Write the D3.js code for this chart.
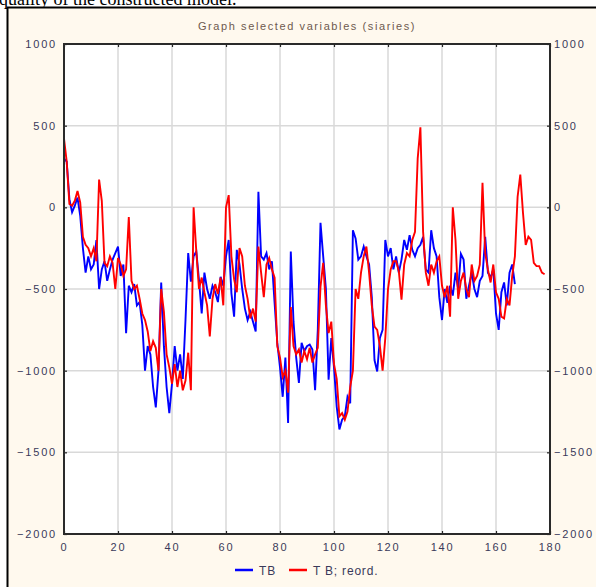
<!DOCTYPE html>
<html><head><meta charset="utf-8">
<script src="https://cdn.jsdelivr.net/npm/d3@7"></script>
<style>html,body{margin:0;padding:0;background:#fff;overflow:hidden}</style>
</head><body>
<svg id="c" width="596" height="587"></svg>
<script>
const title = "Graph selected variables (siaries)";
const xTicks = [0,20,40,60,80,100,120,140,160,180];
const yTicks = [-2000,-1500,-1000,-500,0,500,1000];
const seriesNames = ["TB", "T B; reord."];
const seriesColors = ["#0000ff", "#ff0000"];
const tbValues = [300,280,50,-30,10,60,-50,-250,-400,-300,-380,-350,-200,-500,-380,-330,-450,-380,-320,-280,
-240,-420,-350,-770,-480,-520,-470,-600,-580,-720,-1000,-850,-900,-1100,-1225,-1000,-460,-850,-1100,-1260,
-1080,-850,-1000,-900,-1050,-690,-280,-455,-300,-270,-445,-650,-400,-500,-560,-480,-520,-580,-425,-480,
-300,-200,-525,-670,-260,-350,-500,-620,-690,-640,-700,-760,95,-300,-320,-280,-380,-330,-585,-830,
-980,-1160,-920,-1320,-270,-700,-920,-1075,-830,-880,-850,-840,-870,-1120,-750,-95,-300,-500,-1055,-800,
-980,-1220,-1360,-1300,-1280,-1160,-1200,-140,-190,-320,-300,-240,-300,-350,-550,-935,-1005,-800,-750,-200,
-300,-250,-380,-300,-400,-320,-200,-260,-170,-260,-300,-250,-230,-180,-380,-400,-140,-250,-300,-550,
-690,-500,-585,-480,-540,-400,-500,-285,-320,-560,-480,-400,-500,-550,-450,-420,-180,-400,-430,-380,
-650,-750,-520,-460,-600,-400,-350,-470];
const reordValues = [420,280,20,10,40,100,30,-180,-230,-250,-300,-250,-330,170,40,-340,-360,-300,-340,-500,
-310,-350,-420,-380,-60,-450,-500,-480,-560,-650,-690,-760,-880,-820,-860,-1000,-500,-640,-900,-980,
-1080,-960,-1100,-1000,-1120,-1060,-890,-1120,0,-270,-500,-430,-520,-600,-790,-560,-470,-530,-430,-600,
0,75,-300,-440,-520,-250,-300,-480,-560,-680,-620,-700,-240,-400,-550,-350,-310,-380,-430,-850,
-920,-1040,-1000,-1135,-610,-850,-900,-870,-950,-880,-930,-860,-950,-900,-860,-485,-340,-600,-770,-700,
-960,-1050,-1280,-1260,-1300,-1250,-1100,-1000,-500,-560,-400,-300,-240,-400,-600,-730,-750,-850,-1000,-800,
-500,-380,-330,-330,-390,-565,-350,-280,-300,-200,-150,300,490,-150,-400,-480,-350,-400,-330,-300,
-480,-550,-480,-670,0,-200,-560,-450,-400,-500,-550,-350,-450,-420,-350,150,-280,-380,-460,-350,
-520,-560,-670,-680,-560,-600,-420,-300,65,200,-35,-230,-180,-200,-340,-360,-360,-400,-410];

const svg = d3.select("#c");
const W = 596, H = 587;
const L = 64, R = 550, T = 44, B = 534;
const sans = "Liberation Sans, Arial, sans-serif";

svg.append("rect").attr("x",0).attr("y",0).attr("width",W).attr("height",H).attr("fill","#ffffff");
svg.append("text").attr("x",-1).attr("y",4.5).attr("font-family","Liberation Serif, Times New Roman, serif")
  .attr("font-size",18).attr("fill","#000").text("quality of the constructed model.");
svg.append("rect").attr("x",7.5).attr("y",7.5).attr("width",W+10).attr("height",H+10)
  .attr("fill","#fff9ee").attr("stroke","#000").attr("stroke-width",2);

const x = d3.scaleLinear().domain([0,180]).range([L,R]);
const y = d3.scaleLinear().domain([-2000,1000]).range([B,T]);

svg.append("rect").attr("x",L).attr("y",T).attr("width",R-L).attr("height",B-T).attr("fill","#ffffff");

// grid
const g = svg.append("g");
g.selectAll("line.vx").data(xTicks.slice(1,-1)).join("line")
  .attr("x1",d=>x(d)).attr("x2",d=>x(d)).attr("y1",T).attr("y2",B)
  .attr("stroke","#d9d9d9").attr("stroke-width",1.5);
g.selectAll("line.hy").data(yTicks.slice(1,-1)).join("line")
  .attr("y1",d=>y(d)).attr("y2",d=>y(d)).attr("x1",L).attr("x2",R)
  .attr("stroke","#d9d9d9").attr("stroke-width",1.5);

// lines
const line = d3.line().x((d,i)=>x(i)).y(d=>y(d));
const plot = svg.append("g");
plot.append("path").datum(tbValues).attr("d",line).attr("fill","none")
  .attr("stroke",seriesColors[0]).attr("stroke-width",1.9).attr("stroke-linejoin","miter");
plot.append("path").datum(reordValues).attr("d",line).attr("fill","none")
  .attr("stroke",seriesColors[1]).attr("stroke-width",1.9).attr("stroke-linejoin","miter");

// axes with inner ticks
const axL = svg.append("g").attr("transform",`translate(${L},0)`).call(d3.axisLeft(y).tickValues(yTicks).tickSize(-3).tickPadding(7).tickFormat(d3.format("d")));
const axR = svg.append("g").attr("transform",`translate(${R},0)`).call(d3.axisRight(y).tickValues(yTicks).tickSize(-3).tickPadding(4).tickFormat(d3.format("d")));
const axB = svg.append("g").attr("transform",`translate(0,${B})`).call(d3.axisBottom(x).tickValues(xTicks).tickSize(-3).tickPadding(9).tickFormat(d3.format("d")));
const axT = svg.append("g").attr("transform",`translate(0,${T})`).call(d3.axisTop(x).tickValues(xTicks).tickSize(-3).tickFormat(""));
[axL,axR,axB,axT].forEach(a=>{
  a.select(".domain").remove();
  a.selectAll(".tick line").attr("stroke","#222").attr("stroke-width",1.2);
  a.selectAll("text").attr("font-family",sans).attr("font-size",11)
    .attr("fill","#3a3a5a").attr("letter-spacing","1.8px");
});
svg.append("rect").attr("x",L).attr("y",T).attr("width",R-L).attr("height",B-T)
  .attr("fill","none").attr("stroke","#2a2a2a").attr("stroke-width",2);

// title
svg.append("text").attr("x",(L+R)/2).attr("y",30).attr("text-anchor","middle")
  .attr("font-family",sans).attr("font-size",11)
  .attr("letter-spacing","1.6px").attr("fill","#6e5a4e").text(title);

// legend
const leg = svg.append("g").attr("transform","translate(0,570)");
const legX = [235, 289];
seriesNames.forEach((n,i)=>{
  leg.append("line").attr("x1",legX[i]).attr("x2",legX[i]+18).attr("y1",0).attr("y2",0)
    .attr("stroke",seriesColors[i]).attr("stroke-width",2.5);
  leg.append("text").attr("x",legX[i]+24).attr("y",4.5).attr("font-family",sans)
    .attr("font-size",12).attr("letter-spacing","0.8px").attr("fill","#3a3a5a").text(n);
});
</script>
</body></html>
